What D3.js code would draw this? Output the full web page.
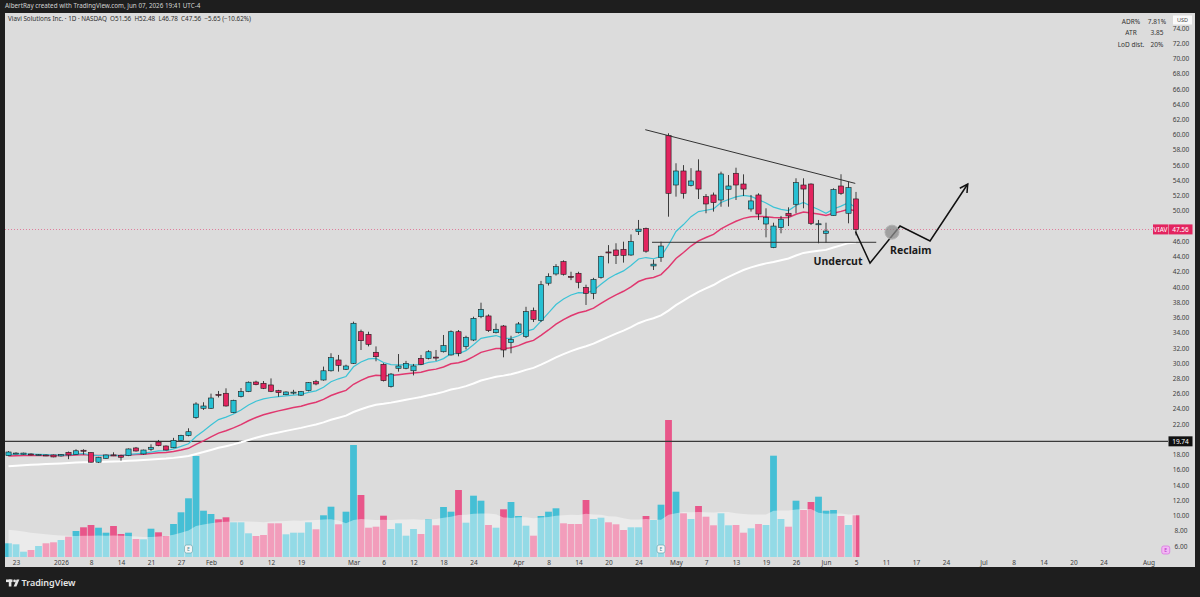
<!DOCTYPE html>
<html lang="en">
<head>
<meta charset="UTF-8"/>
<title>VIAV daily chart</title>
<script src="https://d3js.org/d3.v7.min.js"></script>
<style>
  body { margin:0; background:#1e1e1e; }
  svg text { font-family: "Noto Sans", Roboto, sans-serif; }
</style>
</head>
<body>
<script>
// daily bars, Dec 22 2025 -> Jun 5 2026 (bar index 0..113)
var open = [
17.86,18.15,18.05,18.08,17.97,17.95,17.95,17.82,18.30,18.00,
18.57,18.27,17.00,17.50,17.96,17.90,17.86,18.87,18.08,18.70,
19.65,19.13,18.90,19.87,20.50,22.85,24.08,24.08,25.90,26.05,
23.50,25.60,26.26,27.53,27.36,27.14,26.39,25.86,26.15,25.80,
26.39,27.57,27.79,29.00,30.42,29.20,29.98,34.13,33.79,31.43,
29.85,26.92,29.33,29.33,29.00,30.64,30.64,30.80,31.50,31.08,
34.13,32.17,33.04,36.10,36.20,34.00,34.88,32.70,34.00,33.48,
36.89,35.60,40.50,41.71,43.33,41.40,41.80,39.96,39.17,41.27,
44.60,44.86,44.95,44.20,47.26,47.70,42.76,43.90,59.87,53.39,
55.23,53.35,55.23,51.86,52.08,51.42,52.83,54.93,53.52,50.24,
52.08,48.27,45.16,47.80,49.68,50.86,53.39,53.52,48.25,47.05,
49.37,53.26,49.68,51.56];
var high = [
18.45,18.30,18.25,18.15,18.05,18.00,18.00,18.05,18.40,18.70,
18.70,18.30,17.70,18.00,18.30,18.00,18.80,19.00,18.65,19.35,
19.92,19.20,20.20,20.60,21.45,24.87,24.87,26.00,26.35,26.70,
25.20,26.74,27.60,27.70,27.66,28.00,26.50,26.30,26.50,26.35,
27.50,27.80,29.55,31.30,31.08,29.80,35.45,34.40,34.13,32.20,
30.00,28.70,31.20,30.30,29.90,31.08,31.70,31.73,33.70,34.30,
34.35,33.60,36.10,37.94,36.40,35.20,35.00,33.60,35.40,37.40,
37.30,40.80,41.80,43.00,43.50,42.00,42.00,40.30,41.20,44.10,
45.50,45.74,45.95,46.90,48.80,47.80,43.60,45.95,60.18,56.24,
56.00,55.60,56.76,52.20,52.40,55.14,54.70,55.66,54.79,52.08,
52.30,50.33,48.44,49.33,50.46,54.27,54.27,53.60,48.80,48.44,
52.96,54.80,53.82,52.48];
var low = [
17.80,18.05,18.00,17.90,17.90,17.80,17.65,17.75,17.40,17.95,
18.00,16.95,16.90,17.45,17.80,17.20,17.80,18.40,18.00,18.50,
19.10,18.55,18.85,19.80,20.40,22.70,23.86,24.00,25.50,24.30,
23.43,25.50,26.20,27.10,26.60,26.20,25.60,25.80,25.90,25.70,
26.30,27.10,27.70,28.90,28.89,29.10,29.90,31.73,32.20,30.25,
27.60,26.80,28.89,29.20,28.40,29.75,30.50,30.30,31.40,31.00,
30.90,31.80,32.90,35.90,34.10,33.90,30.77,31.30,33.90,33.30,
35.40,35.40,40.20,41.50,41.50,40.90,39.83,37.64,38.40,41.10,
43.10,43.02,43.20,44.10,46.83,44.50,42.23,43.30,49.23,51.86,
51.60,53.20,51.55,49.68,49.90,50.54,50.54,51.42,51.95,49.90,
48.80,46.52,45.10,47.05,48.00,49.68,50.33,48.14,45.74,45.82,
49.37,52.10,48.36,46.78];
var close = [
18.34,18.20,18.20,17.95,17.99,17.82,17.69,17.99,17.95,18.50,
18.55,17.00,17.65,17.95,17.93,17.65,18.74,18.47,18.60,18.96,
19.17,18.60,19.87,20.53,21.00,24.64,24.38,25.43,25.78,24.38,
25.13,26.26,27.50,27.18,26.70,26.31,26.13,26.22,26.20,26.26,
27.44,27.27,29.00,30.72,29.72,29.63,35.24,32.95,32.48,30.85,
27.70,28.57,29.63,29.98,29.63,29.85,31.50,30.75,32.30,34.13,
31.30,33.40,35.89,37.07,34.27,34.45,31.73,33.13,35.15,36.76,
35.76,40.30,41.40,42.67,41.67,41.36,40.62,39.17,41.00,43.99,
44.50,44.11,44.16,45.95,47.60,44.70,43.00,45.38,52.30,55.23,
52.30,53.92,52.86,50.90,51.07,54.84,53.26,53.39,52.86,51.30,
49.58,49.10,48.00,48.90,49.33,53.70,52.86,48.36,48.30,47.35,
52.80,52.30,53.04,47.56];
// volume, millions
var vol = [
1.37,1.27,0.53,0.70,1.10,1.37,1.47,1.70,2.03,2.60,
2.97,3.20,2.93,2.43,3.10,2.30,2.43,1.80,1.77,2.83,
2.47,2.10,3.30,4.47,5.87,10.10,4.63,4.30,3.77,3.97,
3.47,3.47,2.37,2.10,2.20,3.37,3.37,2.27,2.43,2.43,
3.47,2.77,4.17,5.03,3.27,4.53,11.20,6.20,2.93,3.03,
4.13,2.80,3.37,2.13,2.80,2.30,3.77,3.17,5.00,4.53,
6.70,3.43,6.13,5.63,3.20,2.93,4.77,5.50,4.10,3.13,
2.13,4.10,4.53,4.87,3.37,3.30,3.30,5.70,3.80,3.93,
3.47,3.27,2.70,2.97,2.97,4.10,3.70,5.23,13.70,6.53,
4.37,3.80,5.10,4.03,3.17,4.37,3.17,3.20,2.43,2.87,
3.30,3.20,10.13,3.80,3.03,5.63,4.70,5.50,6.03,4.63,
4.70,4.10,3.20,4.17];

// moving averages: lengths and the value each line starts from at the left edge
var emaLen = [50, 21, 10];
var emaSeed = [16.4, 17.75, 17.95];
var emaColor = ["#ffffff", "#e0386f", "#3cc3d6"];
var emaWidth = [2, 1.5, 1.2];
var volMaLen = 20, volMaSeed = 2.8;

var priceTicks = [6,8,10,12,14,16,18,20,22,24,26,28,30,32,34,36,38,40,42,44,46,48,50,52,54,56,58,60,62,64,66,68,70,72,74];
var tickAt   = [1,7,11,15,19,23,27,31,35,39,46,50,54,58,62,68,72,76,80,84,89,93,97,101,105,109,113,117,121,125,130,134,138,142,146,152];
var tickText = ["23","2026","8","14","21","27","Feb","6","12","19","Mar","6","12","18","24","Apr","8","14","20","24","May","7","13","19","26","Jun","5","11","17","24","Jul","8","14","20","24","Aug"];
var earningsAt = [24, 87];
var nextEarningsAt = 154.3;

var lastPrice = 47.56, refLine = 19.74;
// drawings, in bar index / price
var trendLine = [[84.9, 60.65], [112.9, 53.6]];
var supportLine = [[85.8, 45.87], [115.7, 45.87]];
var projection = [[112.93, 47.28], [114.87, 43.14], [118.87, 48.0], [122.87, 46.04], [127.9, 53.52]];
var reclaimDot = [117.8, 47.2];
var notes = [{t:"Undercut", i:110.6, p:43.4}, {t:"Reclaim", i:120.3, p:44.86}];

var W = 1200, H = 597;
var paneL = 5, paneR = 1168, paneT = 13, paneB = 557;
var UP = "#26c0d3", DN = "#e3245f";

var svg = d3.select("body").append("svg").attr("width", W).attr("height", H);
svg.append("rect").attr("width", W).attr("height", H).attr("fill", "#1e1e1e");
svg.append("rect").attr("x", 5).attr("y", 13).attr("width", 1190).attr("height", 554).attr("fill", "#dcdcdc");

var x = d3.scaleLinear().domain([0, 154]).range([8.5, 1163.5]);
var y = d3.scaleLinear().domain([6, 74]).range([546, 28]);
var yv = d3.scaleLinear().domain([0, d3.max(vol)]).range([paneB, 420]);

svg.append("clipPath").attr("id", "pane").append("rect")
  .attr("x", paneL).attr("y", paneT).attr("width", paneR - paneL).attr("height", paneB - paneT);
var g = svg.append("g").attr("clip-path", "url(#pane)");

var idx = d3.range(close.length);
var isUp = function(i) { return close[i] >= open[i]; };

// volume
g.selectAll(".vol").data(idx).join("rect")
  .attr("x", function(i) { return x(i) - 3.4; })
  .attr("width", 6.8)
  .attr("y", function(i) { return yv(vol[i]); })
  .attr("height", function(i) { return paneB - yv(vol[i]); })
  .attr("fill", function(i) { return isUp(i) ? "#45bfd5" : "#e8568a"; });

var volMa = vol.map(function(v, i) {
  var s = 0;
  for (var j = i - volMaLen + 1; j <= i; j++) s += j < 0 ? volMaSeed : vol[j];
  return s / volMaLen;
});
g.append("path").datum(idx)
  .attr("d", d3.area().x(function(i) { return x(i); }).y0(paneB).y1(function(i) { return yv(volMa[i]); }))
  .attr("fill", "#ffffff").attr("fill-opacity", 0.42);

// reference lines
g.append("line").attr("x1", paneL).attr("x2", paneR).attr("y1", y(refLine)).attr("y2", y(refLine))
  .attr("stroke", "#3a3a3a").attr("stroke-width", 1.2);
g.append("line").attr("x1", paneL).attr("x2", paneR).attr("y1", y(lastPrice)).attr("y2", y(lastPrice))
  .attr("stroke", "#e3245f").attr("stroke-width", 0.8).attr("stroke-dasharray", "1,2").attr("opacity", 0.7);

// moving averages
emaLen.forEach(function(n, k) {
  var a = 2 / (n + 1), prev = emaSeed[k];
  var line = close.map(function(c) { prev = c * a + prev * (1 - a); return prev; });
  g.append("path").datum(idx)
    .attr("d", d3.line().x(function(i) { return x(i); }).y(function(i) { return y(line[i]); }))
    .attr("fill", "none").attr("stroke", emaColor[k]).attr("stroke-width", emaWidth[k]);
});

// candles
g.selectAll(".wick").data(idx).join("line")
  .attr("x1", function(i) { return x(i); }).attr("x2", function(i) { return x(i); })
  .attr("y1", function(i) { return y(high[i]); }).attr("y2", function(i) { return y(low[i]); })
  .attr("stroke", "#2a2a2a").attr("stroke-width", 0.9);
g.selectAll(".body").data(idx).join("rect")
  .attr("x", function(i) { return x(i) - 2.6; })
  .attr("width", 5.2)
  .attr("y", function(i) { return y(Math.max(open[i], close[i])); })
  .attr("height", function(i) { return Math.max(1, Math.abs(y(open[i]) - y(close[i]))); })
  .attr("fill", function(i) { return isUp(i) ? UP : DN; })
  .attr("stroke", "#1d1d1d").attr("stroke-width", 0.6);

// drawings
var pt = d3.line().x(function(d) { return x(d[0]); }).y(function(d) { return y(d[1]); });
g.append("path").attr("d", pt(trendLine)).attr("stroke", "#333").attr("stroke-width", 1).attr("fill", "none");
g.append("path").attr("d", pt(supportLine)).attr("stroke", "#333").attr("stroke-width", 1).attr("fill", "none");
g.append("path").attr("d", pt(projection)).attr("stroke", "#111").attr("stroke-width", 1.5).attr("fill", "none");

var tip = projection[projection.length - 1], back = projection[projection.length - 2];
var tx = x(tip[0]), ty = y(tip[1]);
var ang = Math.atan2(y(back[1]) - ty, x(back[0]) - tx);
var arrow = [-0.5, 0.5].map(function(o) { return [tx + 9 * Math.cos(ang + o), ty + 9 * Math.sin(ang + o)]; });
g.append("path").attr("d", "M" + arrow[0] + "L" + tx + "," + ty + "L" + arrow[1])
  .attr("stroke", "#111").attr("stroke-width", 1.5).attr("fill", "none");

g.append("circle").attr("cx", x(reclaimDot[0])).attr("cy", y(reclaimDot[1])).attr("r", 7)
  .attr("fill", "#8c8c8c").attr("fill-opacity", 0.75).attr("stroke", "#b0b0b0");

g.selectAll(".note").data(notes).join("text")
  .attr("x", function(d) { return x(d.i); }).attr("y", function(d) { return y(d.p); })
  .attr("dy", "0.35em").attr("text-anchor", "middle")
  .attr("font-size", 10.5).attr("font-weight", 700).attr("fill", "#1a1a1a")
  .text(function(d) { return d.t; });

// earnings flags
g.selectAll(".earn").data(earningsAt).join("g")
  .attr("transform", function(i) { return "translate(" + x(i) + "," + 549 + ")"; })
  .call(function(s) {
    s.append("rect").attr("x", -4).attr("y", -4).attr("width", 8).attr("height", 8).attr("rx", 2)
      .attr("fill", "#f5f5f5").attr("stroke", "#6aa9b3").attr("stroke-width", 0.7);
    s.append("text").attr("text-anchor", "middle").attr("dy", "0.35em").attr("font-size", 5)
      .attr("fill", "#4a8a95").text("E");
  });

// axes; price labels that sit under the last-price / 19.74 tags are hidden as on the original
var ya = svg.append("g").attr("transform", "translate(" + paneR + ",0)")
  .call(d3.axisRight(y).tickValues(priceTicks).tickSize(0).tickFormat(d3.format(".2f")));
ya.select(".domain").remove();
ya.selectAll(".tick").filter(function(d) {
  return Math.abs(d - lastPrice) < 1 || Math.abs(d - refLine) < 1;
}).remove();
ya.selectAll("text").attr("x", 13).attr("text-anchor", "middle")
  .attr("font-size", 6.5).attr("fill", "#3c3c3c").attr("font-family", "Noto Sans, sans-serif");

var xa = svg.append("g").attr("transform", "translate(0," + paneB + ")")
  .call(d3.axisBottom(x).tickValues(tickAt).tickSize(0).tickPadding(3)
    .tickFormat(function(d, i) { return tickText[i]; }));
xa.select(".domain").remove();
xa.selectAll("text").attr("font-size", 6.5).attr("fill", "#3c3c3c").attr("font-family", "Noto Sans, sans-serif");

// axis labels
function tag(yy, x0, w, fill, txt, color) {
  svg.append("rect").attr("x", x0).attr("y", yy - 5).attr("width", w).attr("height", 10).attr("fill", fill);
  svg.append("text").attr("x", x0 + w / 2).attr("y", yy).attr("dy", "0.35em").attr("text-anchor", "middle")
    .attr("font-size", 6.5).attr("fill", color).text(txt);
}
tag(y(lastPrice), 1153, 15, "#e3245f", "VIAV", "#fff");
tag(y(lastPrice), 1168.5, 24, "#e3245f", d3.format(".2f")(lastPrice), "#fff");
tag(y(refLine), 1168.5, 24, "#111", d3.format(".2f")(refLine), "#fff");

svg.append("rect").attr("x", 1173).attr("y", 15.5).attr("width", 19).attr("height", 9).attr("fill", "#fafafa");
svg.append("text").attr("x", 1182.5).attr("y", 20).attr("dy", "0.35em").attr("text-anchor", "middle")
  .attr("font-size", 5.5).attr("fill", "#444").text("USD");

var ne = svg.append("g").attr("transform", "translate(" + x(nextEarningsAt) + ",550)");
ne.append("rect").attr("x", -4).attr("y", -4).attr("width", 8).attr("height", 8).attr("rx", 2)
  .attr("fill", "#f2b8f4").attr("stroke", "#d65be0").attr("stroke-width", 0.6);
ne.append("text").attr("text-anchor", "middle").attr("dy", "0.35em").attr("font-size", 5)
  .attr("fill", "#b72fc4").text("E");

// stats box
var statK = ["ADR%", "ATR", "LoD dist."], statV = ["7.81%", "3.85", "20%"];
statK.forEach(function(k, i) {
  svg.append("text").attr("x", 1131).attr("y", 24 + i * 11.3).attr("text-anchor", "middle")
    .attr("font-size", 6.5).attr("fill", "#333").text(k);
  svg.append("text").attr("x", 1157).attr("y", 24 + i * 11.3).attr("text-anchor", "middle")
    .attr("font-size", 6.5).attr("fill", "#333").text(statV[i]);
});

// header
svg.append("text").attr("x", 5).attr("y", 8.3).attr("font-size", 6.3).attr("fill", "#d2d2d2")
  .text("AlbertRay created with TradingView.com, Jun 07, 2026 19:41 UTC-4");
svg.append("text").attr("x", 8).attr("y", 20.6).attr("font-size", 6.3).attr("fill", "#2e2e2e")
  .attr("xml:space", "preserve")
  .text("Viavi Solutions Inc. · 1D · NASDAQ  O51.56  H52.48  L46.78  C47.56  −5.65 (−10.62%)");

// logo
var lg = svg.append("g").attr("fill", "#e6e6e6");
lg.append("rect").attr("x", 6).attr("y", 579.5).attr("width", 6.5).attr("height", 2.6);
lg.append("rect").attr("x", 8.8).attr("y", 579.5).attr("width", 2.6).attr("height", 7);
lg.append("circle").attr("cx", 14.6).attr("cy", 580.9).attr("r", 1.4);
lg.append("path").attr("d", "M16.6,579.5 L19.4,579.5 L16.4,586.5 L13.6,586.5 Z");
svg.append("text").attr("x", 21.5).attr("y", 586.3).attr("font-size", 9).attr("font-weight", 600)
  .attr("fill", "#e6e6e6").text("TradingView");
</script>
</body>
</html>
